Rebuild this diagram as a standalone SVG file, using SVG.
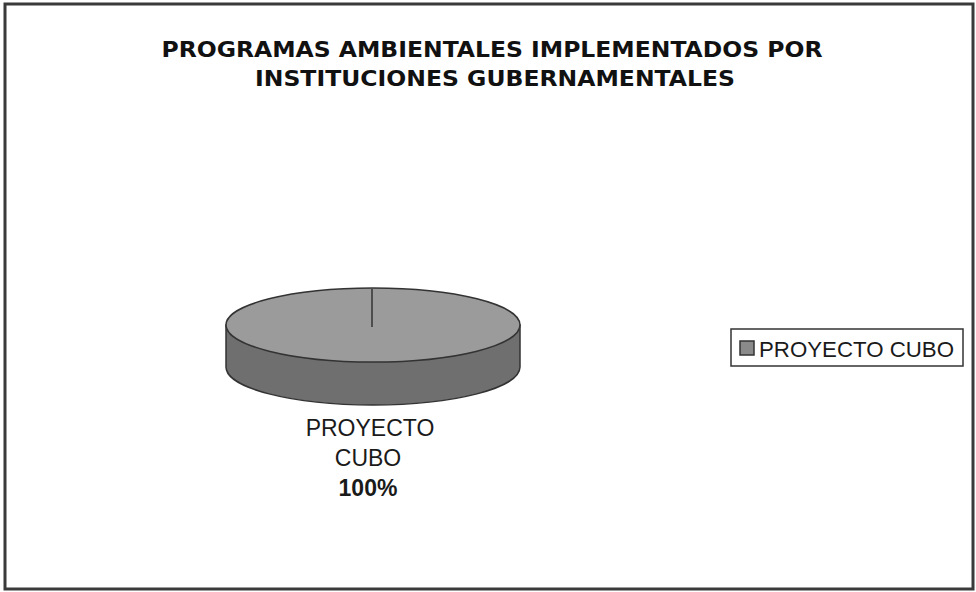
<svg xmlns="http://www.w3.org/2000/svg" width="976" height="592" viewBox="0 0 976 592">
<style>
.title{font-family:"DejaVu Sans","Liberation Sans",sans-serif;font-weight:bold;font-size:22px;fill:#111;text-anchor:middle}
.lbl{font-family:"Liberation Sans",Arial,sans-serif;font-size:23px;fill:#1a1a1a;text-anchor:middle}
.leg{font-family:"Liberation Sans",Arial,sans-serif;font-size:22px;fill:#1a1a1a}
</style>
<rect x="0" y="0" width="976" height="592" fill="#ffffff"/>
<rect x="5" y="4" width="968" height="585" fill="none" stroke="#3a3a3a" stroke-width="3"/>
<g id="title">
<text class="title" x="492" y="57" textLength="661" lengthAdjust="spacingAndGlyphs">PROGRAMAS AMBIENTALES IMPLEMENTADOS POR</text>
<text class="title" x="495" y="86" textLength="480" lengthAdjust="spacingAndGlyphs">INSTITUCIONES GUBERNAMENTALES</text>
</g>
<g id="pie">
<path d="M226,325 L226,367 A147,38 0 0 0 520,367 L520,325 Z" fill="#6f6f6f" stroke="#333" stroke-width="1.5"/>
<ellipse cx="373" cy="325" rx="147" ry="37" fill="#9b9b9b" stroke="#333" stroke-width="1.5"/>
<line x1="372" y1="289" x2="372" y2="327" stroke="#333" stroke-width="1.5"/>
</g>
<g id="label">
<text class="lbl" x="370" y="436">PROYECTO</text>
<text class="lbl" x="368" y="466">CUBO</text>
<text class="lbl" x="368" y="496" font-weight="bold">100%</text>
</g>
<g id="legend">
<rect x="731" y="329" width="232" height="37" fill="#fff" stroke="#333" stroke-width="1.5"/>
<rect x="740" y="341" width="14" height="14" fill="#8a8a8a" stroke="#333" stroke-width="1.5"/>
<text class="leg" x="759" y="357" textLength="195" lengthAdjust="spacingAndGlyphs">PROYECTO CUBO</text>
</g>
</svg>
